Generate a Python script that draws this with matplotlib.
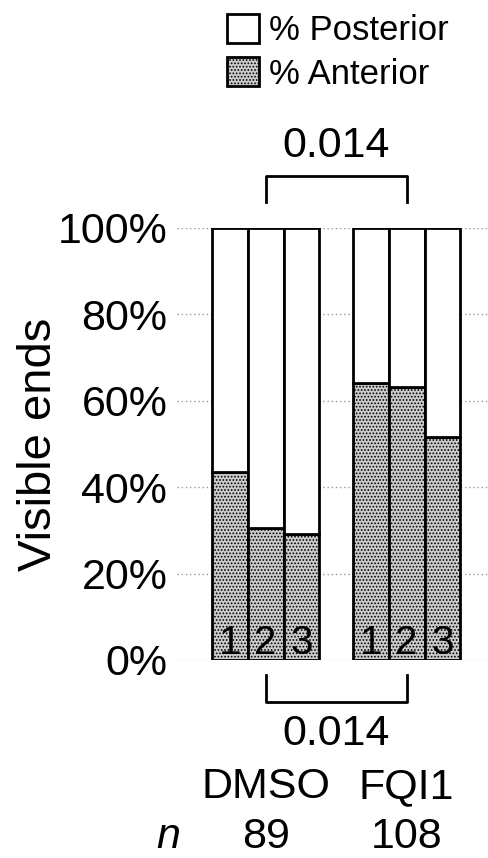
import matplotlib.pyplot as plt
from matplotlib.patches import Patch

plt.rcParams["font.family"] = ["Liberation Sans", "DejaVu Sans"]
plt.rcParams["hatch.linewidth"] = 0.8

# anterior share (%) per replicate, posterior is the rest
groups = ["DMSO", "FQI1"]
n_counts = [89, 108]
replicates = ["1", "2", "3"]
dmso_anterior = [43.4, 30.6, 29.2]
fqi1_anterior = [64.1, 63.2, 51.5]
p_value = "0.014"
yticks = [0, 20, 40, 60, 80, 100]

anterior = dmso_anterior + fqi1_anterior
posterior = [100 - a for a in anterior]
xpos = [0, 1, 2, 3.93, 4.93, 5.93]
group_x = [xpos[1], xpos[4]]

ANT_COLOR = "#cbcbcb"
ANT_HATCH = "....."

fig = plt.figure(figsize=(4.89, 8.58), dpi=100)
ax = fig.add_axes([0.362, 0.2308, 0.638, 0.5035])

for y in yticks:
    ax.axhline(y, color="#999999", lw=1, ls=(0, (1, 2)), zorder=0)

ax.bar(xpos, anterior, width=1, color=ANT_COLOR, hatch=ANT_HATCH,
       edgecolor="black", lw=2, zorder=2)
ax.bar(xpos, posterior, width=1, bottom=anterior, color="white",
       edgecolor="black", lw=2, zorder=2)

for x, lab in zip(xpos, replicates * 2):
    ax.text(x, 1.3, lab, ha="center", va="baseline", fontsize=29, zorder=3)

ax.set_xlim(-1.467, 7.224)
ax.set_ylim(0, 100)
ax.set_xticks([])
ax.set_yticks(yticks)
ax.set_yticklabels([f"{t}%" for t in yticks], fontsize=31)
ax.tick_params(axis="y", length=0, pad=7)
for s in ax.spines.values():
    s.set_visible(False)
ax.set_ylabel("Visible ends", fontsize=34)
ax.yaxis.set_label_coords(-0.372, 0.5)

# significance bracket above the bars
x0, x1 = group_x
ax.plot([x0, x0, x1, x1], [106, 112, 112, 106], color="black", lw=2, clip_on=False)
ax.text((x0 + x1) / 2, 116.4, p_value, ha="center", va="baseline", fontsize=31)

# and the mirrored one below
ax.plot([x0, x0, x1, x1], [-3.5, -9.7, -9.7, -3.5], color="black", lw=2, clip_on=False)
ax.text((x0 + x1) / 2, -19.7, p_value, ha="center", va="baseline", fontsize=31)

for gx, g, n in zip(group_x, groups, n_counts):
    ax.text(gx, -31.9, g, ha="center", va="baseline", fontsize=31)
    ax.text(gx, -43.6, str(n), ha="center", va="baseline", fontsize=31)
ax.text(-1.7, -43.6, "n", ha="center", va="baseline", fontsize=31, style="italic")

handles = [Patch(facecolor="white", edgecolor="black", lw=2),
           Patch(facecolor=ANT_COLOR, edgecolor="black", hatch=ANT_HATCH, lw=2)]
fig.legend(handles, ["% Posterior", "% Anterior"], loc="upper left",
           bbox_to_anchor=(0.436, 1.0), frameon=False, fontsize=25,
           handlelength=0.92, handleheight=0.92, handletextpad=0.3,
           labelspacing=0.28, borderaxespad=0.0)

fig.savefig("out.png", dpi=100)
